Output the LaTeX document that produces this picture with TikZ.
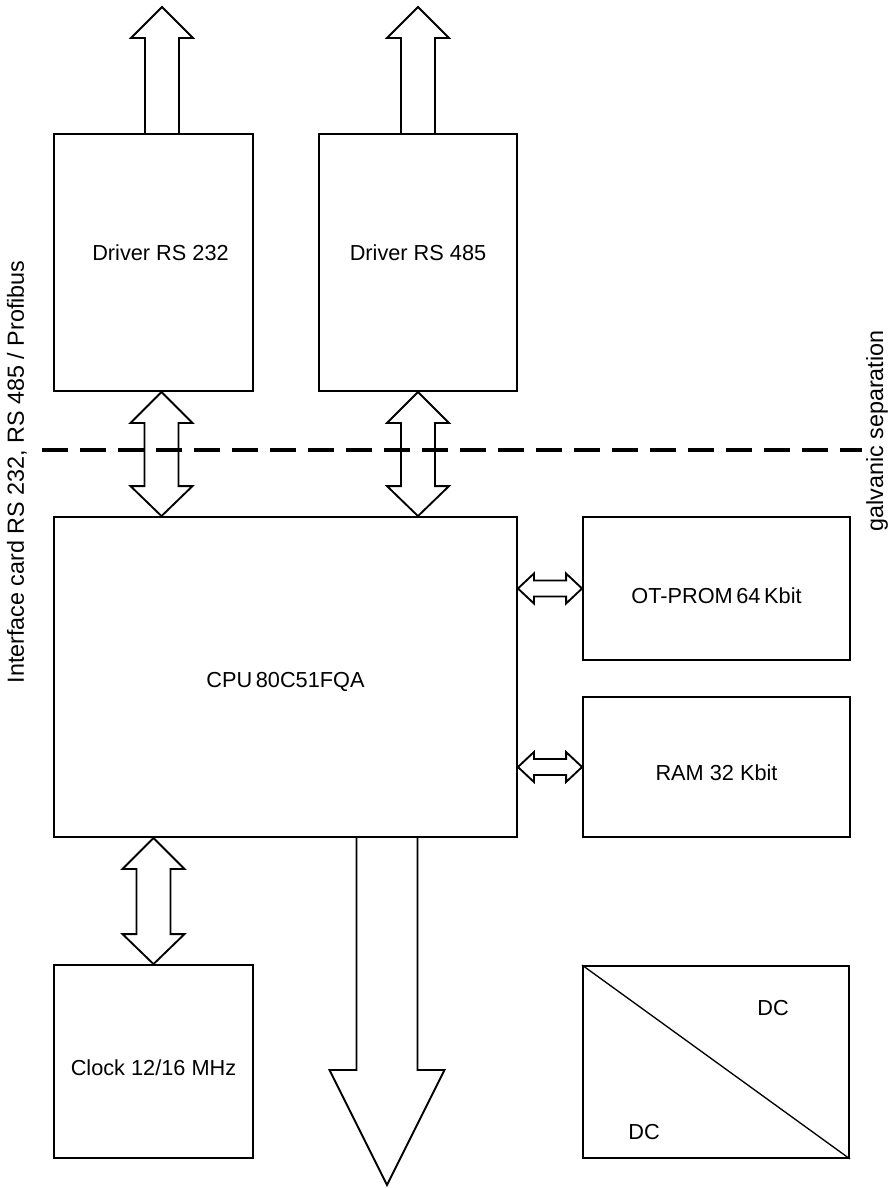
\documentclass[tikz,border=0pt]{standalone}
\usepackage{fontspec}
\setmainfont{Liberation Sans}
\usetikzlibrary{calc,fit}

% vertical double block arrow: #1 upper tip, #2 lower tip
\newcommand{\busv}[2]{%
  \draw[bus] (#1) -- ++(31,31) -- ++(-14,0) -- ($(#2)+(17,-30)$) -- ++(14,0)
    -- (#2) -- ++(-31,-30) -- ++(14,0) -- ($(#1)+(-17,31)$) -- ++(-14,0) -- cycle;}
% horizontal double block arrow: #1 left tip, #2 right tip
\newcommand{\bush}[2]{%
  \draw[bus] (#1) -- ++(16,-15) -- ++(0,7) -- ($(#2)+(-16,-8)$) -- ++(0,-7)
    -- (#2) -- ++(-16,15) -- ++(0,-7) -- ($(#1)+(16,8)$) -- ++(0,7) -- cycle;}

\begin{document}
\begin{tikzpicture}[x=0.75pt, y=-0.75pt,
    every node/.style={font=\fontsize{16.3}{19}\selectfont},
    side/.style={rotate=90, font=\fontsize{17.5}{20}\selectfont},
    box/.style={draw, line width=1.4pt, inner sep=0pt},
    bus/.style={line width=1.4pt, line join=miter},
    sep/.style={line width=2.4pt, dash pattern=on 19.5pt off 9pt}]
    \useasboundingbox (0,0) rectangle (889,1188);

    % Blocks
    \node[box, fit={(54,134) (253,391)}] (drv232) {};
    \node at ($(drv232.center)+(7,-10)$) (t232) {Driver RS 232};
    \node[box, fit={(319,134) (517,391)}] (drv485) {};
    \node at ($(drv485.center)+(0,-10)$) (t485) {Driver RS 485};
    \node[box, fit={(54,517) (517,837)}] (cpu) {};
    \node at ($(cpu.center)+(0,5)$) (tcpu) {CPU\,80C51FQA};
    \node[box, fit={(583,517) (850,660)}] (otp) {};
    \node at ($(otp.center)+(0,7)$) (totp) {OT-PROM\,64\,Kbit};
    \node[box, fit={(583,697) (850,837)}] (ram) {};
    \node at ($(ram.center)+(0,6)$) (tram) {RAM 32 Kbit};
    \node[box, fit={(54,965) (253,1158)}] (clk) {};
    \node at ($(clk.center)+(0,6)$) (tclk) {Clock 12/16 MHz};
    \node[box, fit={(583,966) (849,1158)}] (dcdc) {};
    \draw[line width=1pt] (dcdc.north west) -- (dcdc.south east);
    \node at (773,1008) (dc1) {DC};
    \node at (644,1132) (dc2) {DC};

    % Outputs to the bus lines
    \coordinate (out232) at (162,7);
    \coordinate (out485) at (418,7);
    \foreach \o in {out232,out485}
        \draw[bus] ($(\o |- drv232.north)+(-17,0)$) -- ($(\o)+(-17,31)$) -- ++(-14,0)
            -- (\o) -- ++(31,31) -- ++(-14,0) -- ($(\o |- drv232.north)+(17,0)$);

    % Internal bus
    \coordinate (b232) at ($(drv232.south)+(8,0)$);
    \coordinate (b485) at (drv485.south);
    \busv{b232}{b232 |- cpu.north}
    \busv{b485}{b485 |- cpu.north}
    \bush{cpu.east |- otp.west}{otp.west}
    \bush{cpu.east |- ram.west}{ram.west}
    \busv{cpu.south -| clk.north}{clk.north}

    % Expansion bus
    \coordinate (busout) at (387,1185);
    \draw[bus] ($(busout |- cpu.south)+(-30.5,0)$) -- ($(busout)+(-30.5,-115)$) -- ++(-27,0)
        -- (busout) -- ++(57.5,-115) -- ++(-27,0) -- ($(busout |- cpu.south)+(30.5,0)$);

    % Galvanic separation
    \coordinate (sepL) at (42,450);
    \coordinate (sepR) at (862,450);
    \draw[sep] (sepL) -- (sepR);

    % Side labels
    \node[side] (ifc) at (17,472) {Interface card RS 232, RS 485 / Profibus};
    \node[side] (galv) at (877,431) {galvanic separation};
\end{tikzpicture}
\end{document}
